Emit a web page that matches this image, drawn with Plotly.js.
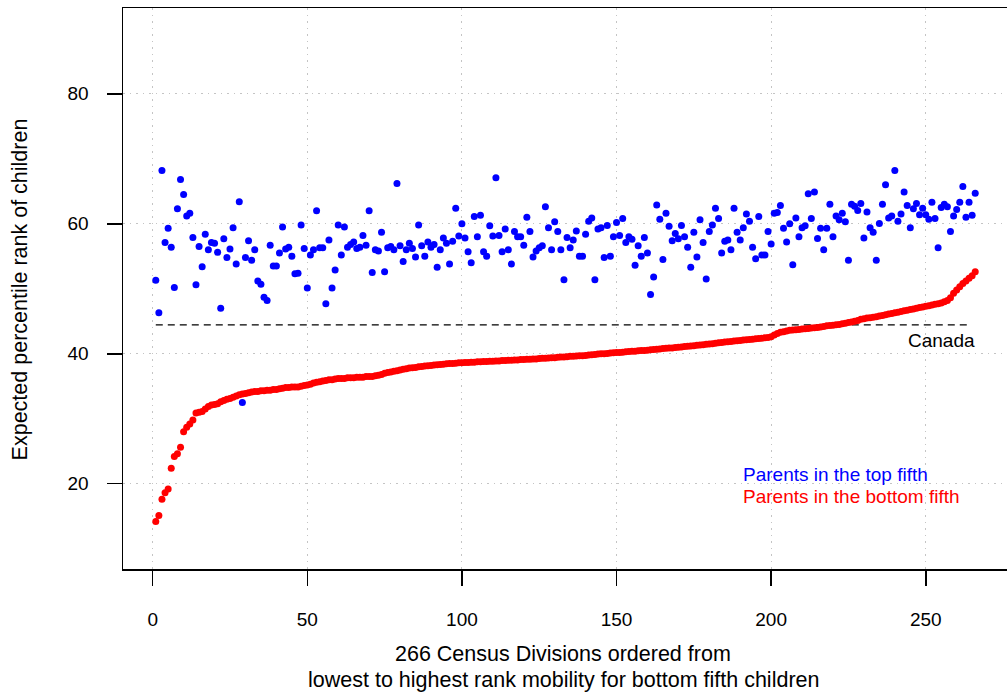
<!DOCTYPE html>
<html><head><meta charset="utf-8">
<script src="https://cdn.plot.ly/plotly-3.0.1.min.js"></script>
<style>html,body{margin:0;padding:0;overflow:hidden;background:#fff}#chart{width:1010px;height:694px}</style>
</head><body><div id="chart"></div>
<script>
// Census divisions ranked 1..266
const divisionRank = Array.from({length: 266}, (_, k) => k + 1);

const topFifth = [
51.3,46.3,68.2,57.1,59.3,56.4,50.2,62.3,66.8,64.5,
61.2,61.6,57.9,50.6,56.5,53.4,58.4,56.0,57.1,57.0,
55.6,47.0,57.7,54.8,56.1,59.4,53.8,63.4,32.5,54.8,
57.4,54.4,56.0,51.2,50.7,48.7,48.2,56.7,53.5,53.5,
55.5,59.5,
56.1,56.4,55.0,52.3,52.4,59.8,56.2,50.1,55.2,56.0,62.0,56.3,56.3,47.7,57.5,50.1,52.9,59.8,55.2,59.5,56.4,56.8,57.2,56.2,56.4,58.2,56.7,62.0,52.5,56.0,55.8,58.7,52.6,56.3,56.5,56.0,66.2,56.6,54.2,56.0,57.0,56.2,54.9,59.8,
56.6,55.0,57.2,56.4,56.8,53.3,56.0,57.8,57.0,53.8,57.3,62.4,58.1,60.0,57.8,55.7,54.0,61.1,58.0,61.3,55.7,55.0,59.7,58.1,67.1,58.2,55.7,59.2,56.0,53.8,58.8,58.0,58.0,56.7,61.0,58.8,54.9,55.8,56.3,56.6,62.6,59.4,56.0,60.3,
58.8,56.0,51.4,57.9,56.3,57.5,58.9,55.0,55.0,58.4,60.4,60.9,51.4,59.2,59.4,54.8,59.75,55.0,58.0,60.2,58.2,60.8,57.1,58.0,57.6,53.6,56.6,55.0,57.9,55.5,49.1,51.8,62.9,60.7,54.5,61.6,59.6,57.4,58.5,57.7,59.75,58.0,56.4,53.3,
58.7,54.9,60.6,57.1,51.5,58.8,59.8,62.4,60.8,55.5,57.3,57.5,56.0,62.4,58.7,57.5,59.4,61.5,60.4,56.4,54.6,61.1,55.2,55.2,58.8,56.9,61.6,61.75,62.8,59.3,57.2,60.0,53.7,60.9,58.0,59.4,59.7,64.6,60.8,64.9,57.75,59.3,56.0,
59.3,63.0,58.0,61.2,60.6,61.6,60.3,54.4,63.0,62.7,62.05,63.1,57.8,61.8,59.4,58.7,54.4,60.05,63.0,66.0,60.9,61.2,68.2,60.4,61.5,64.9,62.8,59.4,62.3,63.1,61.4,62.4,61.4,60.7,63.3,60.8,56.3,62.5,63.0,62.6,58.8,61.2,62.2,63.3,65.75,61.0,63.3,61.3,64.7
];

const bottomFifth = [
14.2,15.1,17.6,18.6,19.2,22.4,24.2,24.6,25.6,28.0,
28.7,29.2,29.8,30.9,31.0,31.1,31.5,31.9,32.1,32.2,
32.3,32.6,32.8,33.0,33.1,33.3,33.5,33.7,33.8,33.9,
34.0,34.1,34.2,34.2,34.3,34.3,34.4,34.4,34.5,34.5,
34.6,34.7,34.8,34.8,34.9,34.9,34.9,35.0,35.1,35.2,
35.3,35.5,35.6,35.7,35.8,35.9,36.0,36.0,36.1,36.2,
36.2,36.2,36.3,36.3,36.3,36.4,36.4,36.4,36.5,36.5,
36.5,36.6,36.7,36.8,37.0,37.1,37.2,37.3,37.4,37.5,
37.6,37.7,37.8,37.85,37.9,38.0,38.05,38.1,38.15,38.2,
38.25,38.3,38.35,38.4,38.45,38.5,38.5,38.55,38.6,38.6,
38.65,38.65,38.7,38.7,38.75,38.75,38.8,38.8,38.85,38.85,
38.9,38.9,38.95,38.95,39.0,39.0,39.05,39.05,39.1,39.1,
39.15,39.15,39.2,39.2,39.25,39.3,39.3,39.35,39.4,39.4,
39.45,39.5,39.5,39.55,39.6,39.6,39.65,39.7,39.7,39.75,
39.8,39.85,39.9,39.95,40.0,40.0,40.05,40.1,40.15,40.2,
40.2,40.25,40.3,40.35,40.4,40.4,40.45,40.5,40.5,40.55,
40.6,40.65,40.7,40.75,40.8,40.85,40.9,40.9,40.95,41.0,
41.05,41.1,41.15,41.2,41.25,41.3,41.35,41.4,41.45,41.5,
41.55,41.6,41.7,41.75,41.8,41.85,41.9,41.95,42.0,42.05,
42.1,42.15,42.2,42.25,42.3,42.35,42.4,42.45,42.5,42.6,
42.9,43.1,43.3,43.4,43.5,43.6,43.65,43.7,43.75,43.8,
43.85,43.9,43.95,44.0,44.05,44.1,44.2,44.3,44.35,44.4,
44.45,44.5,44.6,44.7,44.8,44.9,45.0,45.1,45.3,45.4,
45.5,45.55,45.6,45.7,45.8,45.9,46.0,46.1,46.2,46.3,
46.4,46.5,46.6,46.7,46.8,46.9,47.0,47.1,47.2,47.3,
47.4,47.5,47.6,47.7,47.8,48.0,48.2,48.6,49.3,49.8,
50.3,50.8,51.2,51.6,52.0,52.6
];

const canadaX = [1, 264];
const canadaY = [44.45, 44.45];
const xTicks = [0, 50, 100, 150, 200, 250];
const yTicks = [20, 40, 60, 80];

const FONT = 'Liberation Sans, Arial, Helvetica, sans-serif';

const traces = [
  {x: canadaX, y: canadaY, type: 'scatter', mode: 'lines',
   line: {color: '#000', width: 1.2, dash: '7px,5px'}, hoverinfo: 'skip'},
  {x: divisionRank, y: bottomFifth, type: 'scatter', mode: 'markers',
   marker: {color: '#ff0000', size: 7, line: {width: 0}}, hoverinfo: 'skip'},
  {x: divisionRank, y: topFifth, type: 'scatter', mode: 'markers',
   marker: {color: '#0000ff', size: 7, line: {width: 0}}, hoverinfo: 'skip'}
];

const axisCommon = {
  showline: true, mirror: true, linecolor: '#000', linewidth: 1.5,
  ticks: 'outside', ticklen: 15, tickwidth: 1.5, tickcolor: '#000',
  showgrid: true, gridcolor: '#c4c4c4', gridwidth: 1, griddash: '1.5px,5px',
  zeroline: false, tickfont: {family: FONT, size: 19, color: '#000'}
};

const layout = {
  width: 1010, height: 694,
  margin: {l: 123, r: 2, t: 8, b: 125},
  paper_bgcolor: '#fff', plot_bgcolor: '#fff',
  showlegend: false,
  font: {family: FONT, color: '#000'},
  xaxis: Object.assign({}, axisCommon, {range: [-9.6, 276.6], tickvals: xTicks, ticktext: xTicks.map(String), ticklabelstandoff: 18}),
  yaxis: Object.assign({}, axisCommon, {range: [6.88, 93.2], tickvals: yTicks, ticktext: yTicks.map(String), ticklabelstandoff: 14}),
  annotations: [
    {text: 'Canada', x: 266.5, y: 42.0, xref: 'x', yref: 'y', xanchor: 'right', yanchor: 'middle', showarrow: false, font: {family: FONT, size: 19, color: '#000'}},
    {text: 'Parents in the top fifth', x: 190.2, y: 21.4, xref: 'x', yref: 'y', xanchor: 'left', yanchor: 'middle', showarrow: false, font: {family: FONT, size: 19, color: '#0000ff'}},
    {text: 'Parents in the bottom fifth', x: 190.2, y: 18.0, xref: 'x', yref: 'y', xanchor: 'left', yanchor: 'middle', showarrow: false, font: {family: FONT, size: 19, color: '#ff0000'}},
    {text: '266 Census Divisions ordered from', x: 0.4973, y: -0.152, xref: 'paper', yref: 'paper', xanchor: 'center', yanchor: 'middle', showarrow: false, font: {family: FONT, size: 21.5, color: '#000'}},
    {text: 'lowest to highest rank mobility for bottom fifth children', x: 0.4973, y: -0.198, xref: 'paper', yref: 'paper', xanchor: 'center', yanchor: 'middle', showarrow: false, font: {family: FONT, size: 21.5, color: '#000'}},
    {text: 'Expected percentile rank of children', x: -0.116, y: 0.499, xref: 'paper', yref: 'paper', xanchor: 'center', yanchor: 'middle', textangle: -90, showarrow: false, font: {family: FONT, size: 21.5, color: '#000'}}
  ]
};

Plotly.newPlot('chart', traces, layout, {displayModeBar: false, staticPlot: true});
</script>
</body></html>
